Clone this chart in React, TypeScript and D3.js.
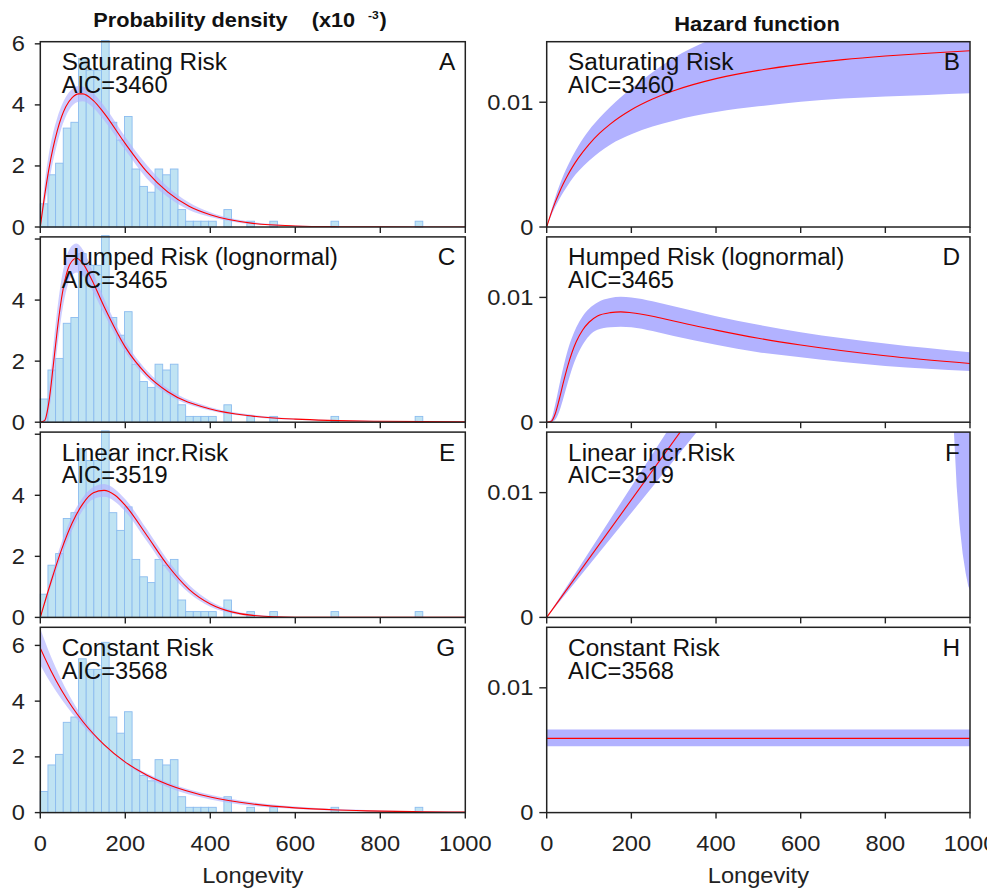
import React from "react";
import * as d3 from "d3";

// ---------------- data ----------------
const histBinWidth = 18;
const histDensity = [
  0.76, 1.71, 2.09, 3.24, 3.43, 5.52, 5.14, 5.14, 6.11, 3.43,
  2.85, 3.62, 1.9, 1.33, 1.14, 1.9, 1.71, 1.9, 0.57, 0.19,
  0.19, 0.19, 0.19, 0, 0.57, 0, 0, 0.19, 0, 0,
  0.19, 0, 0, 0, 0, 0, 0, 0, 0.19, 0,
  0, 0, 0, 0, 0, 0, 0, 0, 0, 0.19,
];

const modelNames = ["Saturating Risk", "Humped Risk (lognormal)", "Linear incr.Risk", "Constant Risk"];
const aicValues = [3460, 3465, 3519, 3568];
const leftLetters = ["A", "C", "E", "G"];
const rightLetters = ["B", "D", "F", "H"];

const xTicks = [0, 200, 400, 600, 800, 1000];
const densityTicks = [0, 2, 4, 6];
const hazardTicks = [0, 0.01];
const hazardTickLabels = ["0", "0.01"];

// Saturating risk
const tA = [0, 10, 20, 30, 40, 50, 60, 75, 90, 100, 125, 150, 200, 250, 300, 350, 400, 500, 600, 700, 800, 1000];
const fitA = [0, 1.01, 1.88, 2.59, 3.16, 3.61, 3.94, 4.24, 4.36, 4.36, 4.14, 3.73, 2.73, 1.82, 1.14, 0.68, 0.4, 0.12, 0.035, 0.01, 0.003, 0];
const upA = [0, 1.4, 2.38, 3.08, 3.58, 3.97, 4.26, 4.52, 4.62, 4.6, 4.38, 3.97, 2.95, 2.04, 1.31, 0.8, 0.48, 0.16, 0.05, 0.015, 0.005, 0];
const loA = [0, 0.72, 1.45, 2.15, 2.75, 3.25, 3.62, 3.97, 4.1, 4.12, 3.9, 3.5, 2.52, 1.6, 0.98, 0.56, 0.33, 0.09, 0.02, 0.005, 0, 0];

const tB = [0, 10, 20, 30, 40, 50, 60, 75, 100, 125, 150, 200, 250, 300, 400, 500, 600, 700, 800, 900, 1000];
const fitB = [0, 0.00105, 0.00197, 0.00279, 0.00352, 0.00417, 0.00476, 0.00554, 0.00663, 0.00752, 0.00825, 0.0094, 0.01026, 0.01092, 0.01189, 0.01255, 0.01303, 0.01341, 0.0137, 0.01393, 0.01413];
const upB = [0, 0.00125, 0.00235, 0.00332, 0.00418, 0.00492, 0.0056, 0.00651, 0.00776, 0.00875, 0.00962, 0.01109, 0.01241, 0.01355, 0.01522, 0.01657, 0.0175, 0.0182, 0.0188, 0.0192, 0.0196];
const loB = [0, 0.00085, 0.0016, 0.00225, 0.00283, 0.00335, 0.00385, 0.00446, 0.0053, 0.00601, 0.0066, 0.00743, 0.00805, 0.00852, 0.00921, 0.00967, 0.01004, 0.01029, 0.01046, 0.01058, 0.01071];

// Humped risk (lognormal)
const tC = [0, 10, 20, 30, 40, 50, 60, 70, 85, 100, 120, 150, 200, 250, 300, 400, 500, 600, 800, 1000];
const fitC = [0, 0.05, 0.64, 1.79, 3.03, 4.06, 4.77, 5.18, 5.37, 5.2, 4.7, 3.79, 2.46, 1.57, 1.0, 0.43, 0.2, 0.1, 0.03, 0.01];
const upC = [0, 0.12, 1.0, 2.4, 3.7, 4.7, 5.35, 5.7, 5.85, 5.65, 5.05, 4.05, 2.64, 1.7, 1.1, 0.49, 0.24, 0.12, 0.04, 0.015];
const loC = [0, 0.01, 0.35, 1.25, 2.45, 3.5, 4.25, 4.7, 4.9, 4.8, 4.38, 3.55, 2.3, 1.45, 0.91, 0.38, 0.17, 0.08, 0.02, 0.005];

const tD = [0, 10, 20, 30, 40, 50, 60, 70, 85, 100, 120, 150, 175, 200, 250, 300, 400, 500, 600, 800, 1000];
const fitD = [0, 0.00005, 0.00066, 0.00188, 0.00327, 0.00454, 0.00561, 0.00646, 0.00739, 0.00801, 0.00851, 0.00878, 0.00884, 0.00877, 0.00849, 0.00811, 0.00738, 0.00673, 0.00619, 0.00533, 0.00471];
const upD = [0, 0.0002, 0.0014, 0.003, 0.0045, 0.0058, 0.0068, 0.0076, 0.0085, 0.0091, 0.0096, 0.00995, 0.01005, 0.01, 0.0097, 0.0093, 0.0085, 0.0078, 0.0072, 0.0063, 0.0056];
const loD = [0, 0, 0.0002, 0.0009, 0.002, 0.0032, 0.0043, 0.0052, 0.0062, 0.0069, 0.0074, 0.0076, 0.00765, 0.0076, 0.0073, 0.0069, 0.0062, 0.0056, 0.0052, 0.0045, 0.0041];

// Linear increasing risk
const tE = [0, 25, 50, 75, 100, 125, 150, 175, 200, 250, 300, 350, 400, 450, 500, 600, 700, 1000];
const fitE = [0, 1.16, 2.22, 3.09, 3.72, 4.08, 4.16, 4.01, 3.67, 2.7, 1.7, 0.92, 0.44, 0.18, 0.065, 0.006, 0, 0];
const upE = [0, 1.3, 2.45, 3.33, 3.93, 4.27, 4.37, 4.21, 3.87, 2.9, 1.87, 1.06, 0.53, 0.24, 0.1, 0.015, 0, 0];
const loE = [0, 1.02, 2.0, 2.86, 3.51, 3.88, 3.95, 3.8, 3.47, 2.51, 1.53, 0.8, 0.35, 0.13, 0.04, 0.002, 0, 0];

const tF = [0, 1000];
const fitF = [0, 0.0471];
const tFband = [0, 950, 962, 968.5, 975, 982.7, 990, 996, 1000];
const upF = [0, 0.0498, 0.0504, 0.0507, 0.0511, 0.0515, 0.0519, 0.0522, 0.0524];
const loF = [0, 0.0398, 0.0149, 0.0105, 0.0075, 0.0051, 0.0035, 0.0025, 0.0022];

// Constant risk
const tG = [0, 25, 50, 75, 100, 150, 200, 250, 300, 400, 500, 600, 700, 800, 900, 1000];
const fitG = [5.9, 5.09, 4.39, 3.79, 3.27, 2.44, 1.81, 1.35, 1.01, 0.56, 0.31, 0.17, 0.095, 0.053, 0.029, 0.016];
const upG = [6.6, 5.6, 4.75, 4.02, 3.41, 2.45, 1.84, 1.41, 1.08, 0.64, 0.37, 0.22, 0.13, 0.076, 0.045, 0.027];
const loG = [5.3, 4.64, 4.07, 3.56, 3.12, 2.39, 1.76, 1.27, 0.91, 0.47, 0.24, 0.13, 0.065, 0.034, 0.017, 0.009];

const tH = [0, 1000];
const fitH = [0.00595, 0.00595];
const upH = [0.00665, 0.00665];
const loH = [0.00532, 0.00532];

// -------------- layout ---------------
const W = 987;
const H = 890;
const LX0 = 40.3, LX1 = 465.3, RX0 = 546.7, RX1 = 970;
const TOP0 = 41.7, STEP = 195.2, PH = 185.3;
const densityMax = [6.07, 6.07, 6.07, 6.65];
const hazardMax = 0.01485;

const FONT = "'Liberation Sans', Arial, Helvetica, sans-serif";
const BAND = "#b2b2ff";
const AXIS = "#222";

type Curve = { t: number[]; fit: number[]; up: number[]; lo: number[]; tBand?: number[]; linearBand?: boolean; linear?: boolean };

const densityCurves: Curve[] = [
  { t: tA, fit: fitA, up: upA, lo: loA },
  { t: tC, fit: fitC, up: upC, lo: loC },
  { t: tE, fit: fitE, up: upE, lo: loE },
  { t: tG, fit: fitG, up: upG, lo: loG },
];
const hazardCurves: Curve[] = [
  { t: tB, fit: fitB, up: upB, lo: loB },
  { t: tD, fit: fitD, up: upD, lo: loD },
  { t: tF, fit: fitF, up: upF, lo: loF, tBand: tFband, linearBand: true, linear: true },
  { t: tH, fit: fitH, up: upH, lo: loH, linearBand: true, linear: true },
];

function T(props: { x: number; y: number; fs: number; sx?: number; anchor?: string; bold?: boolean; children: any; fill?: string }) {
  const { x, y, fs, sx = 1, anchor = "start", bold, children, fill = "#111" } = props;
  return (
    <text
      transform={`translate(${x},${y}) scale(${sx},1)`}
      textAnchor={anchor}
      fontSize={fs}
      fontFamily={FONT}
      fontWeight={bold ? "bold" : "normal"}
      fill={fill}
      style={{ whiteSpace: "pre" }}
    >
      {children}
    </text>
  );
}

function Panel(props: { row: number; side: "L" | "R" }) {
  const { row, side } = props;
  const top = TOP0 + row * STEP;
  const bottom = top + PH;
  const x0 = side === "L" ? LX0 : RX0;
  const x1 = side === "L" ? LX1 : RX1;
  const x = d3.scaleLinear().domain([0, 1000]).range([x0, x1]);
  const yMax = side === "L" ? densityMax[row] : hazardMax;
  const y = d3.scaleLinear().domain([0, yMax]).range([bottom, top]);
  const c = side === "L" ? densityCurves[row] : hazardCurves[row];
  const clipId = `clip-${side}${row}`;

  const tb = c.tBand ?? c.t;
  const bandPts = tb.map((t, i) => ({ t, up: c.up[i], lo: c.lo[i] }));
  const area = d3
    .area<{ t: number; up: number; lo: number }>()
    .x((d) => x(d.t))
    .y0((d) => y(d.lo))
    .y1((d) => y(d.up))
    .curve(c.linearBand ? d3.curveLinear : d3.curveMonotoneX);
  const line = d3
    .line<[number, number]>()
    .x((d) => x(d[0]))
    .y((d) => y(d[1]))
    .curve(c.linear ? d3.curveLinear : d3.curveMonotoneX);
  const fitPts: [number, number][] = c.t.map((t, i) => [t, c.fit[i]]);

  const isBottom = row === 3;
  const yTicks = side === "L" ? densityTicks : hazardTicks;
  const tickLen = side === "L" ? 5.5 : 7.4;
  const labelX = side === "L" ? x0 - 15.3 : x0 - 13.4;

  return (
    <g>
      <defs>
        <clipPath id={clipId}>
          <rect x={x0} y={top} width={x1 - x0} height={PH} />
        </clipPath>
      </defs>
      {side === "L" &&
        histDensity.map((v, i) =>
          v > 0 ? (
            <rect
              key={i}
              x={x(i * histBinWidth)}
              y={y(v)}
              width={x((i + 1) * histBinWidth) - x(i * histBinWidth)}
              height={y(0) - y(v)}
              fill="#bfe3f3"
              stroke="#8cbcef"
              strokeWidth={0.9}
            />
          ) : null
        )}
      <g clipPath={`url(#${clipId})`}>
        <path d={area(bandPts) || ""} fill={BAND} fillOpacity={side === "L" ? 0.65 : 1} stroke="none" />
        <path d={line(fitPts) || ""} fill="none" stroke="#ff0000" strokeWidth={1.1} />
      </g>
      <rect x={x0} y={top} width={x1 - x0} height={PH} fill="none" stroke={AXIS} strokeWidth={1.5} />
      {xTicks.map((t) => (
        <line key={t} x1={x(t)} x2={x(t)} y1={bottom} y2={bottom + 6} stroke={AXIS} strokeWidth={1.4} />
      ))}
      {yTicks.map((v, i) => (
        <g key={v}>
          <line x1={x0 - tickLen} x2={x0} y1={y(v)} y2={y(v)} stroke={AXIS} strokeWidth={1.4} />
          {side === "L" && v === 6 && (row === 1 || row === 2) ? null : (
            <T x={labelX} y={y(v) + 7.5} fs={21.5} sx={1.1} anchor="end" fill="#222">
              {side === "L" ? String(v) : hazardTickLabels[i]}
            </T>
          )}
        </g>
      ))}
      {isBottom &&
        xTicks.map((t) => (
          <T key={t} x={x(t)} y={850.5} fs={21.5} sx={1.1} anchor="middle" fill="#222">
            {String(t)}
          </T>
        ))}
      {isBottom && (
        <T x={(x0 + x1) / 2} y={883.3} fs={21.5} sx={1.1} anchor="middle" fill="#222">
          Longevity
        </T>
      )}
      <T x={x0 + 21.4} y={top + 28.4} fs={23} sx={1.06}>
        {modelNames[row]}
      </T>
      <T x={x0 + 21.4} y={top + 51.2} fs={23} sx={1.03}>
        {`AIC=${aicValues[row]}`}
      </T>
      <T x={x1 - 10} y={top + 28.4} fs={23} sx={1.06} anchor="end">
        {side === "L" ? leftLetters[row] : rightLetters[row]}
      </T>
    </g>
  );
}

export default function App() {
  const rows = [0, 1, 2, 3];
  return (
    <svg
      width={W}
      height={H}
      viewBox={`0 0 ${W} ${H}`}
      style={{ position: "absolute", left: 0, top: 0, background: "#fff" }}
    >
      <rect x={0} y={0} width={W} height={H} fill="#fff" />
      <T x={93.3} y={27} fs={20.5} sx={1.06} bold>
        Probability density
      </T>
      <T x={311.7} y={27} fs={20.5} sx={1.06} bold>
        (x10
      </T>
      <T x={368} y={19} fs={11.5} sx={1.05} bold>
        -3
      </T>
      <T x={379.5} y={27} fs={20.5} sx={1.06} bold>
        )
      </T>
      <T x={757} y={31} fs={20.5} sx={1.07} anchor="middle" bold>
        Hazard function
      </T>
      {rows.map((r) => (
        <Panel key={`L${r}`} row={r} side="L" />
      ))}
      {rows.map((r) => (
        <Panel key={`R${r}`} row={r} side="R" />
      ))}
    </svg>
  );
}
